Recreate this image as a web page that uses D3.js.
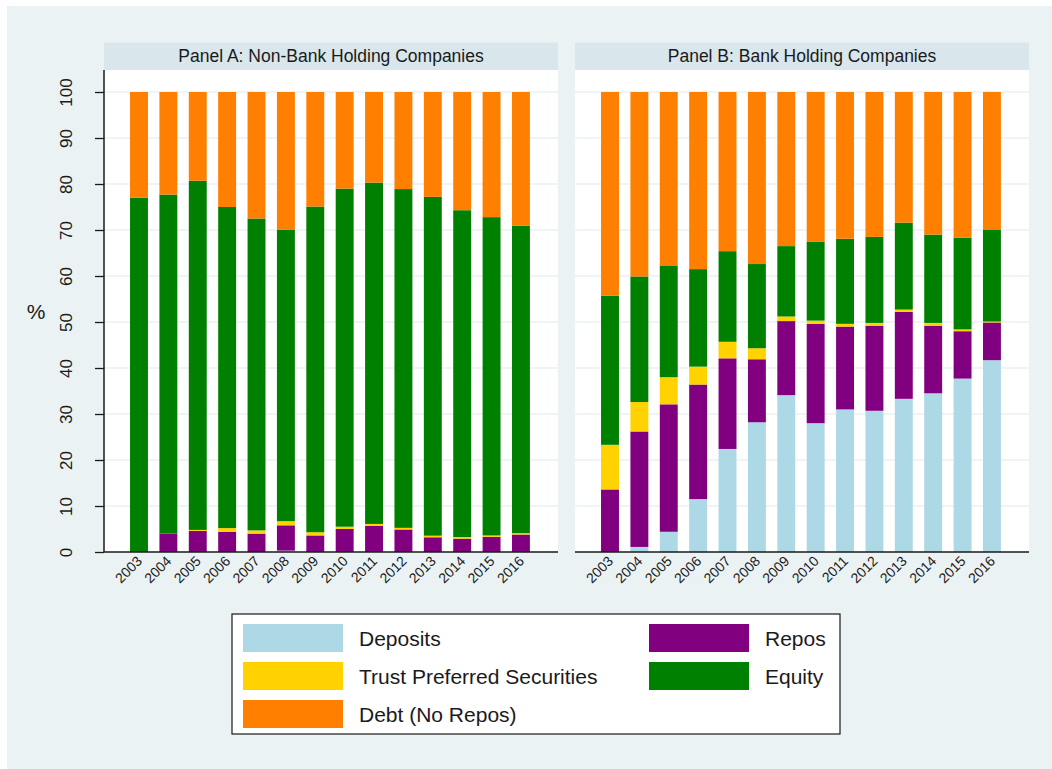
<!DOCTYPE html>
<html>
<head>
<meta charset="utf-8">
<script src="https://cdn.jsdelivr.net/npm/d3@7"></script>
<style>
  html, body { margin: 0; padding: 0; background: #ffffff; }
  svg { display: block; font-family: "Liberation Sans", Arial, Helvetica, sans-serif; }
</style>
</head>
<body>
<svg id="chart" width="1052" height="769"></svg>
<script>
// Funding structure of holding companies, share of total liabilities + equity (%)
const years = ["2003","2004","2005","2006","2007","2008","2009","2010","2011","2012","2013","2014","2015","2016"];
const yTicks = [0,10,20,30,40,50,60,70,80,90,100];
const seriesNames = ["Deposits","Repos","Trust Preferred Securities","Equity","Debt (No Repos)"];
const seriesColors = ["#add8e6","#800080","#ffd200","#008000","#ff7f00"];

// Panel A: Non-Bank Holding Companies
const depositsA = [0, 0, 0, 0, 0, 0.3, 0, 0, 0, 0, 0, 0, 0, 0];
const reposA    = [0, 4.0, 4.6, 4.4, 4.0, 5.5, 3.6, 5.0, 5.7, 4.9, 3.2, 2.9, 3.3, 3.8];
const tpsA      = [0, 0, 0.2, 0.8, 0.7, 0.9, 0.7, 0.5, 0.4, 0.35, 0.35, 0.35, 0.3, 0.3];
const equityA   = [77.0, 73.7, 75.9, 69.8, 67.8, 63.4, 70.8, 73.5, 74.2, 73.65, 73.65, 71.05, 69.2, 66.8];
const debtA     = [23.0, 22.3, 19.3, 25.0, 27.5, 29.9, 24.9, 21.0, 19.7, 21.1, 22.8, 25.7, 27.2, 29.1];

// Panel B: Bank Holding Companies
const depositsB = [0, 1.1, 4.4, 11.5, 22.4, 28.2, 34.1, 28.0, 31.0, 30.7, 33.3, 34.5, 37.7, 41.7];
const reposB    = [13.6, 25.1, 27.7, 24.9, 19.7, 13.7, 16.1, 21.6, 18.0, 18.5, 18.9, 14.7, 10.3, 8.2];
const tpsB      = [9.7, 6.4, 5.9, 3.9, 3.6, 2.4, 1.0, 0.7, 0.6, 0.6, 0.5, 0.6, 0.4, 0.2];
const equityB   = [32.4, 27.3, 24.3, 21.2, 19.7, 18.3, 15.3, 17.2, 18.5, 18.7, 18.9, 19.2, 19.9, 19.9];
const debtB     = [44.3, 40.1, 37.7, 38.5, 34.6, 37.4, 33.5, 32.5, 31.9, 31.5, 28.4, 31.0, 31.7, 30.0];

const panels = [
  { title: "Panel A: Non-Bank Holding Companies", left: 104, series: [depositsA, reposA, tpsA, equityA, debtA], yAxis: true },
  { title: "Panel B: Bank Holding Companies",     left: 575, series: [depositsB, reposB, tpsB, equityB, debtB], yAxis: false }
];

const W = 1052, H = 769;
const panelW = 454;
const plotTop = 70, plotBottom = 552;
const stripTop = 42.5;
const bg = "#eaf2f3", stripFill = "#d9e6eb", gridColor = "#eaf2f3", ink = "#1a1a1a";

const svg = d3.select("#chart");

// outer graph region
svg.append("rect").attr("x", 7).attr("y", 6).attr("width", W - 7).attr("height", H - 6).attr("fill", bg);

const y = d3.scaleLinear().domain([0, 100]).range([plotBottom, 92]);

const keys = seriesNames;

panels.forEach(p => {
  const g = svg.append("g");
  const x = d3.scaleBand().domain(years)
    .range([p.left + 11.35, p.left + 440.6])
    .paddingInner(0.39).paddingOuter(0.5);

  // title strip
  g.append("rect").attr("x", p.left).attr("y", stripTop).attr("width", panelW).attr("height", plotTop - stripTop).attr("fill", stripFill);
  g.append("text").attr("x", p.left + panelW / 2).attr("y", 62).attr("text-anchor", "middle")
    .attr("font-size", 17.5).attr("fill", ink).text(p.title);

  // plot region
  g.append("rect").attr("x", p.left).attr("y", plotTop).attr("width", panelW).attr("height", plotBottom - plotTop).attr("fill", "#ffffff");

  // gridlines
  g.append("g").selectAll("line").data(yTicks.filter(t => t > 0)).join("line")
    .attr("x1", p.left).attr("x2", p.left + panelW)
    .attr("y1", d => y(d)).attr("y2", d => y(d))
    .attr("stroke", gridColor).attr("stroke-width", 1.6);

  // stacked bars
  const rows = years.map((yr, i) => {
    const r = { year: yr };
    keys.forEach((k, j) => { r[k] = p.series[j][i]; });
    return r;
  });
  const stacked = d3.stack().keys(keys)(rows);
  g.append("g").selectAll("g").data(stacked).join("g")
    .attr("fill", (d, i) => seriesColors[i])
    .selectAll("rect").data(d => d).join("rect")
    .attr("x", d => x(d.data.year))
    .attr("width", x.bandwidth())
    .attr("y", d => y(d[1]))
    .attr("height", d => Math.max(0, y(d[0]) - y(d[1])));

  // x axis
  const xAxis = g.append("g").attr("transform", `translate(0,${plotBottom})`)
    .call(d3.axisBottom(x).tickSize(0).tickPadding(0));
  xAxis.select(".domain").remove();
  g.append("line").attr("x1", p.left).attr("x2", p.left + panelW)
    .attr("y1", plotBottom).attr("y2", plotBottom).attr("stroke", ink).attr("stroke-width", 1.5);
  xAxis.selectAll("text")
    .attr("font-size", 14).attr("fill", ink)
    .attr("text-anchor", "end")
    .attr("dy", null).attr("y", 0)
    .attr("transform", "translate(4,10) rotate(-45)")
    .attr("font-family", "Liberation Sans, Arial, sans-serif");

  // y axis
  if (p.yAxis) {
    const yAxis = g.append("g").attr("transform", `translate(${p.left},0)`)
      .call(d3.axisLeft(y).tickValues(yTicks).tickSize(9).tickPadding(0));
    yAxis.select(".domain").attr("d", `M0,${plotTop}V${plotBottom}`).attr("stroke", ink).attr("stroke-width", 1.5);
    yAxis.selectAll(".tick line").attr("stroke", ink).attr("stroke-width", 1.3);
    yAxis.selectAll(".tick text")
      .attr("font-size", 17).attr("fill", ink)
      .attr("text-anchor", "middle")
      .attr("x", null).attr("dy", null)
      .attr("transform", "translate(-32,0) rotate(-90)")
      .attr("font-family", "Liberation Sans, Arial, sans-serif");
    svg.append("text").attr("x", 36).attr("y", 319).attr("text-anchor", "middle")
      .attr("font-size", 21).attr("fill", ink).text("%");
  }
});

// legend
const legend = svg.append("g");
legend.append("rect").attr("x", 232).attr("y", 614).attr("width", 608).attr("height", 120)
  .attr("fill", "#ffffff").attr("stroke", ink).attr("stroke-width", 1.2);
const legendItems = [
  { name: "Deposits", col: 0, row: 0, idx: 0 },
  { name: "Repos", col: 1, row: 0, idx: 1 },
  { name: "Trust Preferred Securities", col: 0, row: 1, idx: 2 },
  { name: "Equity", col: 1, row: 1, idx: 3 },
  { name: "Debt (No Repos)", col: 0, row: 2, idx: 4 }
];
const colX = [243, 649];
const rowY = d3.scalePoint().domain([0, 1, 2]).range([638, 714]);
legendItems.forEach(it => {
  const cy = rowY(it.row);
  legend.append("rect").attr("x", colX[it.col]).attr("y", cy - 14).attr("width", 100).attr("height", 28)
    .attr("fill", seriesColors[it.idx]);
  legend.append("text").attr("x", colX[it.col] + 116).attr("y", cy + 7.5)
    .attr("font-size", 21).attr("fill", ink).text(it.name);
});
</script>
</body>
</html>
